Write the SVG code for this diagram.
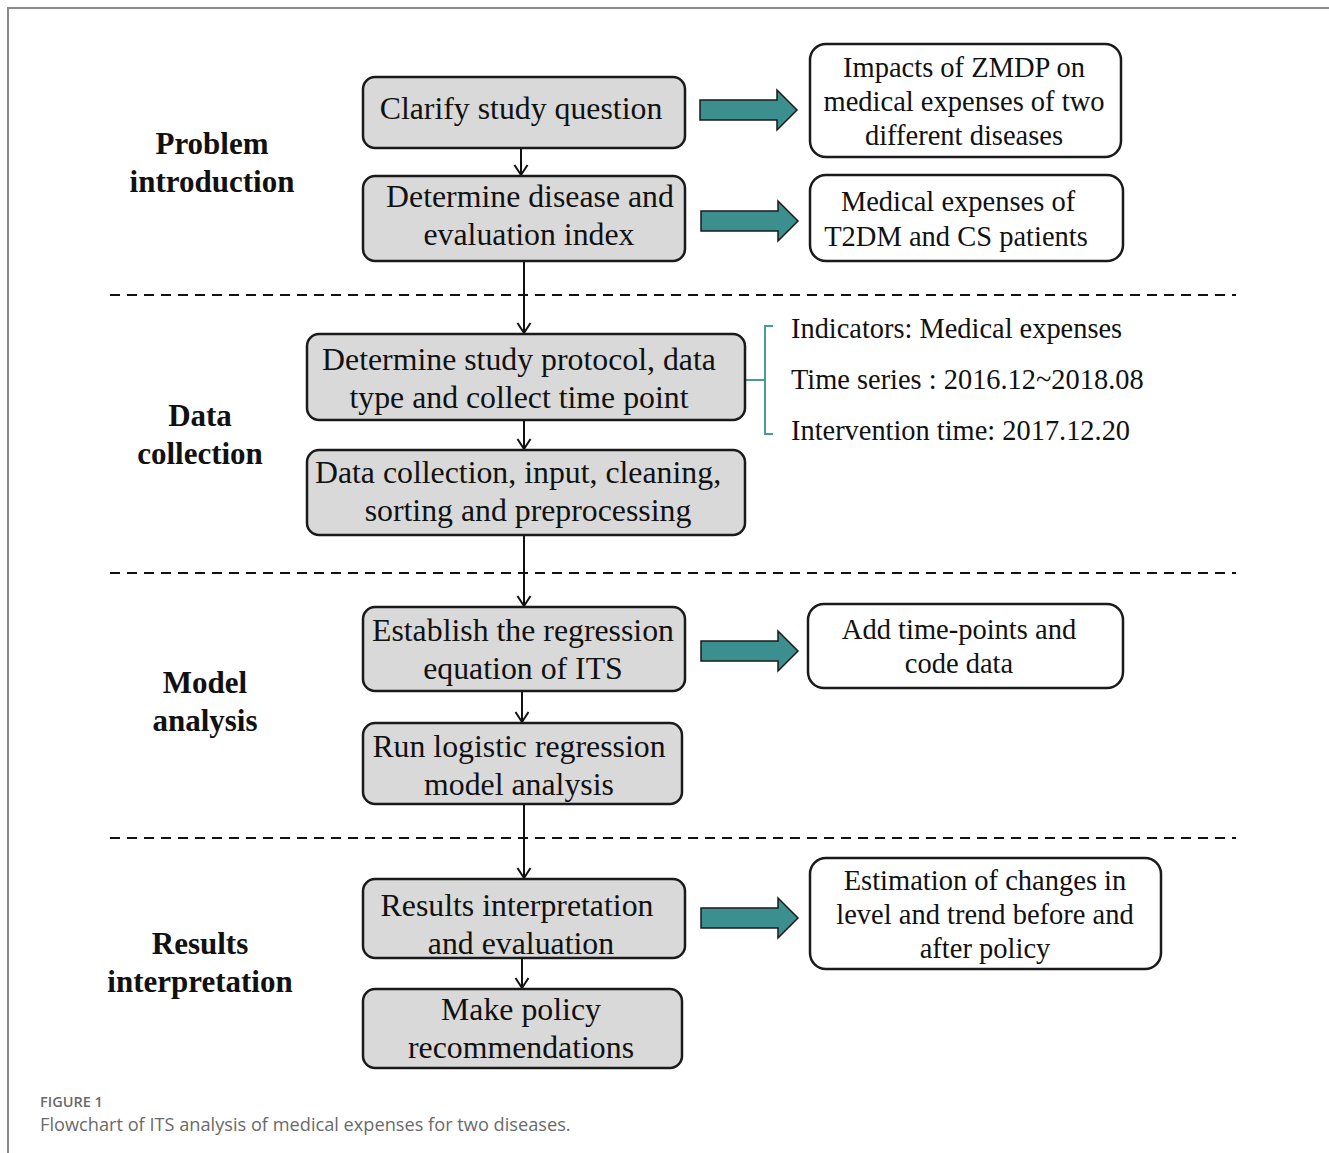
<svg xmlns="http://www.w3.org/2000/svg" xmlns:xlink="http://www.w3.org/1999/xlink" width="1329" height="1153" viewBox="0 0 1329 1153">
<style>
.gbox{fill:#d9d9d9;stroke:#1a1a1a;stroke-width:2.5}
.wbox{fill:#fff;stroke:#1a1a1a;stroke-width:2.5}
.bt{font-family:"Liberation Serif","Times New Roman",serif;font-size:31.8px;fill:#111;text-anchor:middle}
.wt{font-family:"Liberation Serif","Times New Roman",serif;font-size:28.5px;fill:#111;text-anchor:middle}
.st{font-family:"Liberation Serif","Times New Roman",serif;font-size:31px;font-weight:bold;fill:#111;text-anchor:middle}
.it{font-family:"Liberation Serif","Times New Roman",serif;font-size:28.4px;fill:#111}
.conn{stroke:#111;stroke-width:2;fill:none}
.dash{stroke:#111;stroke-width:2;stroke-dasharray:10 7;fill:none}
.fat{fill:#3b8f8f;stroke:#1a1a1a;stroke-width:1.5}
.cap{font-family:"Open Sans","Noto Sans","Liberation Sans",sans-serif;fill:#6a6a6a}
</style>
<defs>
<marker id="ah" markerUnits="userSpaceOnUse" viewBox="-12 -8 14 16" refX="0" refY="0" markerWidth="14" markerHeight="16" orient="auto">
<path d="M-10,-6.5 L0,0 L-10,6.5" fill="none" stroke="#111" stroke-width="2"/>
</marker>
<path id="fatarrow" class="fat" d="M0,-10 H77 V-20 L97,0 L77,20 V10 H0 Z"/>
</defs>
<rect width="1329" height="1153" fill="#fff"/>
<g id="frame" fill="none" stroke="#8a8a8a" stroke-width="2">
<path d="M1329,8 H8 V1153"/>
</g>
<g id="dividers">
<line class="dash" x1="110" y1="295" x2="1236" y2="295"/>
<line class="dash" x1="110" y1="573" x2="1236" y2="573"/>
<line class="dash" x1="110" y1="838" x2="1236" y2="838"/>
</g>
<g id="section-labels">
<text class="st" x="212" y="154">Problem</text>
<text class="st" x="212" y="192">introduction</text>
<text class="st" x="200" y="426">Data</text>
<text class="st" x="200" y="464">collection</text>
<text class="st" x="205" y="693">Model</text>
<text class="st" x="205" y="731">analysis</text>
<text class="st" x="200" y="954">Results</text>
<text class="st" x="200" y="992">interpretation</text>
</g>
<g id="connectors">
<line class="conn" x1="521" y1="148" x2="521" y2="175" marker-end="url(#ah)"/>
<line class="conn" x1="524" y1="261" x2="524" y2="333" marker-end="url(#ah)"/>
<line class="conn" x1="524" y1="420" x2="524" y2="449" marker-end="url(#ah)"/>
<line class="conn" x1="524" y1="535" x2="524" y2="606" marker-end="url(#ah)"/>
<line class="conn" x1="522" y1="691" x2="522" y2="722" marker-end="url(#ah)"/>
<line class="conn" x1="524" y1="804" x2="524" y2="878" marker-end="url(#ah)"/>
<line class="conn" x1="522" y1="958" x2="522" y2="988" marker-end="url(#ah)"/>
<use xlink:href="#fatarrow" x="700" y="110"/>
<use xlink:href="#fatarrow" x="701" y="221"/>
<use xlink:href="#fatarrow" x="701" y="651"/>
<use xlink:href="#fatarrow" x="701" y="918"/>
<path d="M773,326 H765 V434 H773 M765,380 H745" fill="none" stroke="#4a9a9a" stroke-width="2"/>
</g>
<g id="clarify">
<rect class="gbox" x="363" y="77" width="322" height="71" rx="12"/>
<text class="bt" x="521" y="119">Clarify study question</text>
</g>
<g id="determine-disease">
<rect class="gbox" x="363" y="176" width="322" height="85" rx="12"/>
<text class="bt" x="530" y="207">Determine disease and</text>
<text class="bt" x="529" y="245">evaluation index</text>
</g>
<g id="protocol">
<rect class="gbox" x="307" y="334" width="438" height="86" rx="12"/>
<text class="bt" x="519" y="370">Determine study protocol, data</text>
<text class="bt" x="519" y="408">type and collect time point</text>
</g>
<g id="data-collection">
<rect class="gbox" x="307" y="450" width="438" height="85" rx="12"/>
<text class="bt" x="518" y="483">Data collection, input, cleaning,</text>
<text class="bt" x="528" y="521">sorting and preprocessing</text>
</g>
<g id="regression">
<rect class="gbox" x="363" y="607" width="322" height="84" rx="12"/>
<text class="bt" x="523" y="641">Establish the regression</text>
<text class="bt" x="523" y="679">equation of ITS</text>
</g>
<g id="logistic">
<rect class="gbox" x="363" y="723" width="319" height="81" rx="12"/>
<text class="bt" x="519" y="757">Run logistic regression</text>
<text class="bt" x="519" y="795">model analysis</text>
</g>
<g id="results">
<rect class="gbox" x="363" y="879" width="322" height="79" rx="12"/>
<text class="bt" x="517" y="916">Results interpretation</text>
<text class="bt" x="521" y="954">and evaluation</text>
</g>
<g id="policy">
<rect class="gbox" x="363" y="989" width="319" height="79" rx="12"/>
<text class="bt" x="521" y="1020">Make policy</text>
<text class="bt" x="521" y="1058">recommendations</text>
</g>
<g id="impacts">
<rect class="wbox" x="810" y="44" width="311" height="113" rx="16"/>
<text class="wt" x="964" y="77">Impacts of ZMDP on</text>
<text class="wt" x="964" y="111">medical expenses of two</text>
<text class="wt" x="964" y="145">different diseases</text>
</g>
<g id="expenses">
<rect class="wbox" x="810" y="175" width="313" height="86" rx="16"/>
<text class="wt" x="958" y="211">Medical expenses of</text>
<text class="wt" x="956" y="246">T2DM and CS patients</text>
</g>
<g id="indicators">
<text class="it" x="791" y="338">Indicators: Medical expenses</text>
<text class="it" x="791" y="389">Time series : 2016.12~2018.08</text>
<text class="it" x="791" y="440">Intervention time: 2017.12.20</text>
</g>
<g id="timepoints">
<rect class="wbox" x="808" y="604" width="315" height="84" rx="16"/>
<text class="wt" x="959" y="639">Add time-points and</text>
<text class="wt" x="959" y="673">code data</text>
</g>
<g id="estimation">
<rect class="wbox" x="810" y="858" width="351" height="111" rx="16"/>
<text class="wt" x="985" y="890">Estimation of changes in</text>
<text class="wt" x="985" y="924">level and trend before and</text>
<text class="wt" x="985" y="958">after policy</text>
</g>
<g id="caption">
<text class="cap" x="40" y="1107" font-size="14.5" font-weight="600">FIGURE 1</text>
<text class="cap" x="40" y="1131" font-size="18.2">Flowchart of ITS analysis of medical expenses for two diseases.</text>
</g>
</svg>
